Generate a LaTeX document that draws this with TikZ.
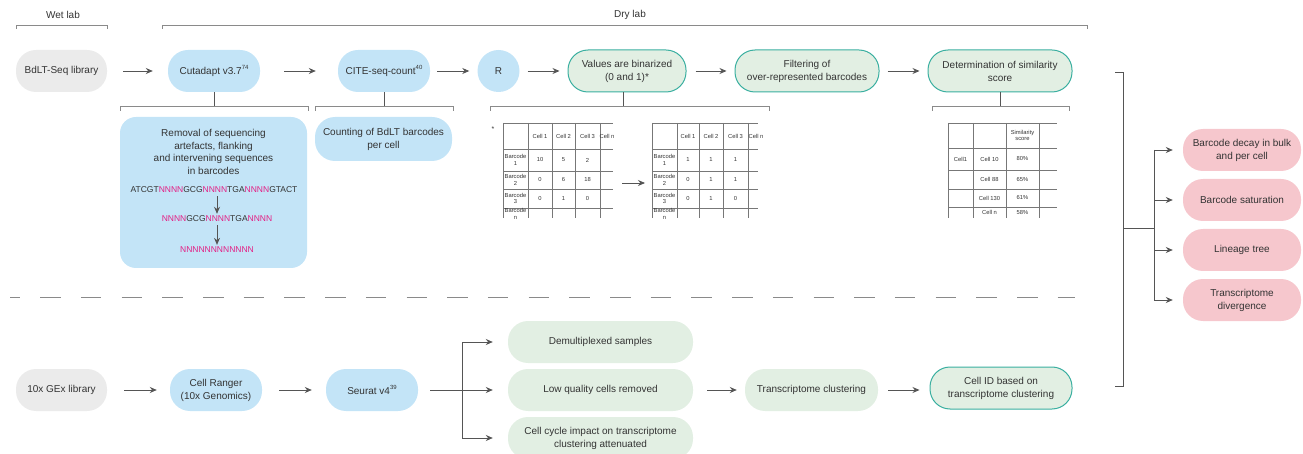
\documentclass[tikz,border=0pt]{standalone}
\usepackage{fontspec}
\setmainfont{Liberation Sans}
\usetikzlibrary{arrows.meta}
\definecolor{grayfill}{HTML}{EBEBEB}
\definecolor{bluefill}{HTML}{C3E4F7}
\definecolor{greenfill}{HTML}{E2EFE3}
\definecolor{tealc}{HTML}{3AAFA0}
\definecolor{pinkfill}{HTML}{F6C7CD}
\definecolor{mag}{HTML}{E41E84}
\definecolor{txt}{HTML}{333333}
\definecolor{linec}{HTML}{555555}
\definecolor{brkc}{HTML}{8A8A8A}
\definecolor{tblc}{HTML}{777777}
\newcommand{\supr}[1]{\raisebox{4.5pt}{\fontsize{6}{6}\selectfont #1}}
\newcommand{\Nm}[1]{{\color{mag}#1}}
\begin{document}
\begin{tikzpicture}[x=1pt,y=-1pt,
  pill/.style={rectangle, rounded corners=20pt, minimum height=42pt, inner sep=2pt, align=center, font=\fontsize{10}{13}\selectfont, text=txt},
  graybox/.style={pill, fill=grayfill},
  bluebox/.style={pill, fill=bluefill},
  greenbox/.style={pill, fill=greenfill},
  tealbox/.style={pill, fill=greenfill, draw=tealc, line width=1pt},
  pinkbox/.style={pill, fill=pinkfill},
  arr/.style={draw=linec, line width=0.9pt, -{Stealth[length=7pt,width=6pt]}},
  plain/.style={draw=linec, line width=0.9pt},
  brk/.style={draw=brkc, line width=0.9pt},
  tbl/.style={draw=tblc, line width=0.55pt},
  tt/.style={font=\fontsize{5.8}{6.4}\selectfont, text=txt, align=center, inner sep=0pt},
  lab/.style={font=\fontsize{10}{12}\selectfont, text=txt, inner sep=0pt},
  seq/.style={font=\fontsize{8.5}{10}\selectfont, text=txt, inner sep=0pt}
]
\useasboundingbox (0,0) rectangle (1303,454);
\clip (0,0) rectangle (1303,454);

% headers
\node[lab] (wet) at (63,15) {Wet lab};
\node[lab] (dry) at (630,15) {Dry lab};
\draw[brk] (16,29) -- (16,25) -- (107,25) -- (107,29);
\draw[brk] (162,29) -- (162,25) -- (1087,25) -- (1087,29);

% top row
\node[graybox, minimum width=91pt] (bdlt) at (61.5,71) {BdLT-Seq library};
\node[bluebox, minimum width=92pt] (cut) at (214,71) {Cutadapt v3.7\supr{74}};
\node[bluebox, minimum width=92pt] (cite) at (384,71) {CITE-seq-count\supr{40}};
\node[circle, fill=bluefill, minimum size=42pt, inner sep=0pt, font=\fontsize{10}{12}\selectfont, text=txt] (R) at (498.5,71) {R};
\node[tealbox, minimum width=118pt] (bin) at (627,71) {Values are binarized\\(0 and 1)*};
\node[tealbox, minimum width=144pt] (filt) at (807,71) {Filtering of\\over-represented barcodes};
\node[tealbox, minimum width=144pt] (det) at (1000,71) {Determination of similarity\\score};

\draw[arr, shorten <=16pt, shorten >=15pt] (bdlt) -- (cut);
\draw[arr, shorten <=24pt, shorten >=22pt] (cut) -- (cite);
\draw[arr, shorten <=7pt, shorten >=8pt] (cite) -- (R);
\draw[arr, shorten <=8pt, shorten >=8pt] (R) -- (bin);
\draw[arr, shorten <=9pt, shorten >=8pt] (bin) -- (filt);
\draw[arr, shorten <=8pt, shorten >=8pt] (filt) -- (det);

% brackets under top row
\coordinate (cutb) at (214,106);
\draw[plain] (cut.south) -- (cutb);
\draw[brk] (120,111) -- (120,106) -- (308,106) -- (308,111);
\coordinate (citeb) at (384,106);
\draw[plain] (cite.south) -- (citeb);
\draw[brk] (315,111) -- (315,106) -- (453,106) -- (453,111);
\coordinate (binb) at (623,106);
\draw[plain] (bin.south -| binb) -- (binb);
\draw[brk] (490,111) -- (490,106) -- (769,106) -- (769,111);
\coordinate (detb) at (1000,106);
\draw[plain] (det.south) -- (detb);
\draw[brk] (932,111) -- (932,106) -- (1069,106) -- (1069,111);

% removal box
\node[rectangle, rounded corners=16pt, fill=bluefill, minimum width=187pt, minimum height=151pt] (rem) at (213.5,192.5) {};
\node[align=center, font=\fontsize{10}{12.7}\selectfont, text=txt, inner sep=0pt] (remt) at (213.5,152) {Removal of sequencing\\artefacts, flanking\\and intervening sequences\\in barcodes};
\node[seq] (seq1) at (214,190) {ATCGT\Nm{NNNN}GCG\Nm{NNNN}TGA\Nm{NNNN}GTACT};
\node[seq] (seq2) at (217,219) {\Nm{NNNN}GCG\Nm{NNNN}TGA\Nm{NNNN}};
\node[seq] (seq3) at (217,250) {\Nm{NNNNNNNNNNNN}};
\draw[arr, shorten <=3pt, shorten >=2pt] (seq1.south -| seq2) -- (seq2.north);
\draw[arr, shorten <=3pt, shorten >=2pt] (seq2.south) -- (seq3.north);

% counting box
\node[bluebox, minimum width=137pt, minimum height=44pt] (count) at (383.5,139) {Counting of BdLT barcodes\\per cell};

% left table
\node[tt, font=\fontsize{7}{7}\selectfont] (star) at (493,129) {*};
\foreach \x in {503,528,552,575,600} \draw[tbl] (\x,123) -- (\x,218);
\foreach \y in {123,149,171,189,208} \draw[tbl] (503,\y) -- (613,\y);
\foreach \t/\x/\y [count=\i] in {Cell 1/540/136, Cell 2/563.5/136, Cell 3/587.5/136, Cell n/607/136,
  {Barcode\\1}/515.5/160, 10/540/160, 5/563.5/160, 2/587.5/160,
  {Barcode\\2}/515.5/180, 0/540/180, 6/563.5/180, 18/587.5/180,
  {Barcode\\3}/515.5/198.5, 0/540/198.5, 1/563.5/198.5, 0/587.5/198.5,
  {Barcode\\n}/515.5/214}
  \node[tt] (ta\i) at (\x,\y) {\t};

% arrow between tables
\coordinate (tarS) at (622,183);
\coordinate (tarE) at (645,183);
\draw[arr] (tarS) -- (tarE);

% right table
\foreach \x in {652,677,699,723,748} \draw[tbl] (\x,123) -- (\x,218);
\foreach \y in {123,149,171,189,208} \draw[tbl] (652,\y) -- (758,\y);
\foreach \t/\x/\y [count=\i] in {Cell 1/688/136, Cell 2/711/136, Cell 3/735.5/136, Cell n/756/136,
  {Barcode\\1}/664.5/160, 1/688/160, 1/711/160, 1/735.5/160,
  {Barcode\\2}/664.5/180, 0/688/180, 1/711/180, 1/735.5/180,
  {Barcode\\3}/664.5/198.5, 0/688/198.5, 1/711/198.5, 0/735.5/198.5,
  {Barcode\\n}/664.5/214}
  \node[tt] (tb\i) at (\x,\y) {\t};

% similarity table
\foreach \x in {948,973,1006,1039} \draw[tbl] (\x,123) -- (\x,218);
\foreach \y in {123,148,170,189,207} \draw[tbl] (948,\y) -- (1057,\y);
\foreach \t/\x/\y [count=\i] in {{Similarity\\score}/1022.5/135.5,
  Cell1/960.5/159, Cell 10/989.5/159, 80\%/1022.5/159,
  Cell 88/989.5/179.5, 65\%/1022.5/179.5,
  Cell 130/989.5/198, 61\%/1022.5/198,
  Cell n/989.5/212.5, 58\%/1022.5/212.5}
  \node[tt] (tc\i) at (\x,\y) {\t};

% dashed separator
\coordinate (dashA) at (10,297);
\coordinate (dashB) at (1075,297);
\draw[draw=brkc, line width=0.9pt, dash pattern=on 20.5pt off 20.2pt, dash phase=10.5pt] (dashA) -- (dashB);

% right bracket and outcomes
\draw[plain] (1115,72) -- (1123,72) -- (1123,386) -- (1115,386);
\coordinate (hubA) at (1123,228);
\coordinate (hub) at (1154,228);
\draw[plain] (hubA) -- (hub);
\node[pinkbox, minimum width=118pt] (o1) at (1242,150) {Barcode decay in bulk\\and per cell};
\node[pinkbox, minimum width=118pt] (o2) at (1242,200) {Barcode saturation};
\node[pinkbox, minimum width=118pt] (o3) at (1242,250) {Lineage tree};
\node[pinkbox, minimum width=118pt] (o4) at (1242,300) {Transcriptome\\divergence};
\draw[plain] (hub |- o1) -- (hub |- o4);
\foreach \o in {o1,o2,o3,o4} \draw[arr, shorten >=10pt] (hub |- \o) -- (\o);

% bottom row
\node[graybox, minimum width=91pt] (gex) at (61.5,390) {10x GEx library};
\node[bluebox, minimum width=92pt] (ranger) at (216,390) {Cell Ranger\\(10x Genomics)};
\node[bluebox, minimum width=92pt] (seurat) at (372,390) {Seurat v4\supr{39}};
\draw[arr, shorten <=17pt, shorten >=13pt] (gex) -- (ranger);
\draw[arr, shorten <=17pt, shorten >=14pt] (ranger) -- (seurat);

\node[greenbox, minimum width=185pt] (demux) at (600.5,342) {Demultiplexed samples};
\node[greenbox, minimum width=185pt] (lowq) at (600.5,390) {Low quality cells removed};
\node[greenbox, minimum width=185pt] (cyc) at (600.5,438) {Cell cycle impact on transcriptome\\clustering attenuated};
\coordinate (split) at (462,390);
\draw[plain, shorten <=12pt] (seurat) -- (split);
\draw[plain] (split |- demux) -- (split |- cyc);
\foreach \o in {demux,lowq,cyc} \draw[arr, shorten >=15pt] (split |- \o) -- (\o);

\node[greenbox, minimum width=133pt] (tclust) at (811.5,390) {Transcriptome clustering};
\node[tealbox, minimum width=142pt] (cellid) at (1001,388) {Cell ID based on\\transcriptome clustering};
\draw[arr, shorten <=14pt, shorten >=8pt] (lowq) -- (tclust);
\draw[arr, shorten <=10pt, shorten >=10pt] (tclust.east) -- (cellid.west |- tclust.east);
\end{tikzpicture}
\end{document}
